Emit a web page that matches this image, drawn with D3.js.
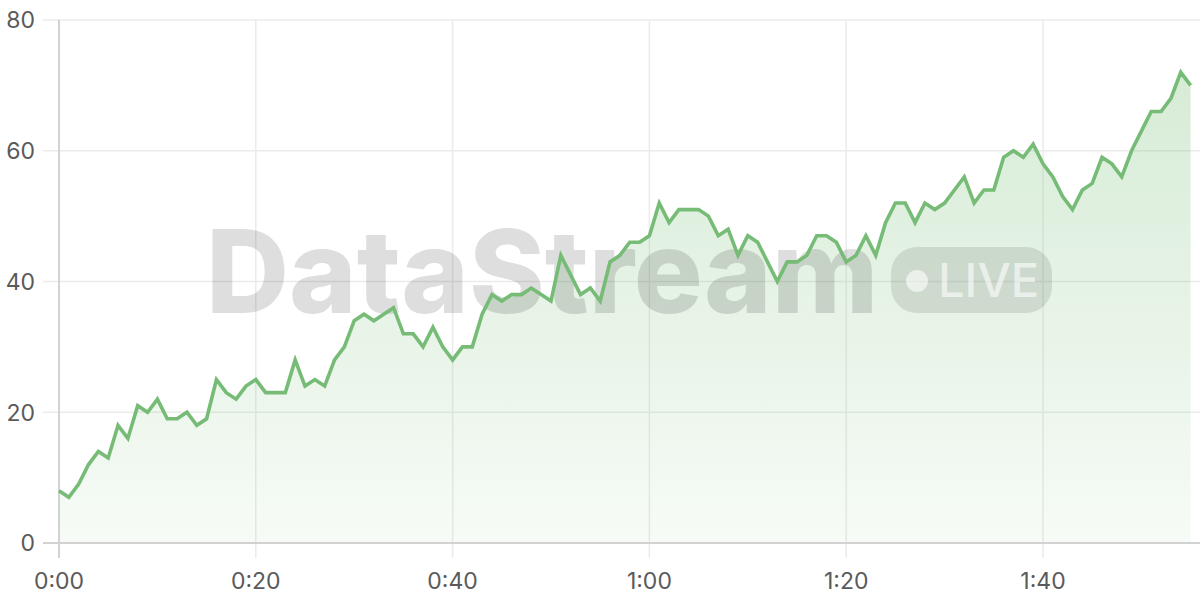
<!DOCTYPE html>
<html>
<head>
<meta charset="utf-8">
<script src="https://cdn.jsdelivr.net/npm/d3@7"></script>
<style>
  html, body { margin: 0; padding: 0; background: #fff; }
  svg { display: block; }
</style>
</head>
<body>
<svg id="chart" width="1200" height="600"></svg>
<script>
// Data: one value per second (0..115)
const values = [
  8, 7, 9, 12, 14, 13, 18, 16, 21, 20,
  22, 19, 19, 20, 18, 19, 25, 23, 22, 24,
  25, 23, 23, 23, 28, 24, 25, 24, 28, 30,
  34, 35, 34, 35, 36, 32, 32, 30, 33, 30,
  28, 30, 30, 35, 38, 37, 38, 38, 39, 38,
  37, 44, 41, 38, 39, 37, 43, 44, 46, 46,
  47, 52, 49, 51, 51, 51, 50, 47, 48, 44,
  47, 46, 43, 40, 43, 43, 44, 47, 47, 46,
  43, 44, 47, 44, 49, 52, 52, 49, 52, 51,
  52, 54, 56, 52, 54, 54, 59, 60, 59, 61,
  58, 56, 53, 51, 54, 55, 59, 58, 56, 60,
  63, 66, 66, 68, 72, 70
];
const seconds = values.map((_, i) => i);
const xTicks = [0, 20, 40, 60, 80, 100];
const yTicks = [0, 20, 40, 60, 80];
const watermarkText = "DataStream";
const badgeText = "LIVE";

(function () {
const svg = d3.select("#chart");
const mLeft = 59, mRight = 1190.6, mTop = 20, mBottom = 543;

const x = d3.scaleLinear().domain([0, 115]).range([mLeft, mRight]);
const y = d3.scaleLinear().domain([0, 80]).range([mBottom, mTop]);
const fmt = s => Math.floor(s / 60) + ":" + String(s % 60).padStart(2, "0");

// gradient
const defs = svg.append("defs");
const grad = defs.append("linearGradient").attr("id", "areaGrad")
  .attr("gradientUnits", "userSpaceOnUse")
  .attr("x1", 0).attr("y1", mTop).attr("x2", 0).attr("y2", mBottom);
grad.append("stop").attr("offset", "0%").attr("stop-color", "#74bd74").attr("stop-opacity", 0.32);
grad.append("stop").attr("offset", "100%").attr("stop-color", "#74bd74").attr("stop-opacity", 0.06);

// horizontal grid
svg.append("g").selectAll("line").data(yTicks.filter(d => d !== 0)).join("line")
  .attr("x1", 43).attr("x2", 1200)
  .attr("y1", d => y(d)).attr("y2", d => y(d))
  .attr("stroke", "#ebebeb").attr("stroke-width", 1.5);

// vertical grid
svg.append("g").selectAll("line").data(xTicks.filter(d => d !== 0)).join("line")
  .attr("x1", d => x(d)).attr("x2", d => x(d))
  .attr("y1", mTop).attr("y2", 558)
  .attr("stroke", "#ebebeb").attr("stroke-width", 1.5);

// area
const area = d3.area().x((d, i) => x(seconds[i])).y0(mBottom).y1(d => y(d));
svg.append("path").datum(values).attr("d", area).attr("fill", "url(#areaGrad)");

// watermark
const wm = svg.append("g").attr("pointer-events", "none");
wm.append("text").text(watermarkText)
  .attr("x", 206).attr("y", 313)
  .attr("font-family", "Inter, 'Liberation Sans', sans-serif")
  .attr("font-weight", 800).attr("font-size", 115)
  .attr("letter-spacing", 0)
  .attr("fill", "#000").attr("fill-opacity", 0.13);
wm.append("rect").attr("x", 891).attr("y", 247).attr("width", 161).attr("height", 66)
  .attr("rx", 26).attr("fill", "#000").attr("fill-opacity", 0.1);
wm.append("circle").attr("cx", 917).attr("cy", 281).attr("r", 11)
  .attr("fill", "#fff").attr("fill-opacity", 0.6);
wm.append("text").text(badgeText)
  .attr("x", 938).attr("y", 297)
  .attr("font-family", "Inter, 'Liberation Sans', sans-serif")
  .attr("font-weight", 500).attr("font-size", 47)
  .attr("fill", "#fff").attr("fill-opacity", 0.6);

// axis lines
svg.append("line").attr("x1", mLeft).attr("x2", mLeft).attr("y1", mTop).attr("y2", 558)
  .attr("stroke", "#d2d2d2").attr("stroke-width", 2);
svg.append("line").attr("x1", 43).attr("x2", 1200).attr("y1", mBottom).attr("y2", mBottom)
  .attr("stroke", "#d2d2d2").attr("stroke-width", 2);

// line
const line = d3.line().x((d, i) => x(seconds[i])).y(d => y(d));
svg.append("path").datum(values).attr("d", line)
  .attr("fill", "none").attr("stroke", "#76bb76").attr("stroke-width", 3.6)
  .attr("stroke-linejoin", "miter");

// y labels
svg.append("g").selectAll("text").data(yTicks).join("text")
  .attr("x", 35).attr("y", d => y(d) + 8.3)
  .attr("text-anchor", "end")
  .attr("font-family", "Inter, sans-serif").attr("font-size", 23)
  .attr("fill", "#5a5a5a").text(d => d);

// x labels
svg.append("g").selectAll("text").data(xTicks).join("text")
  .attr("x", d => x(d)).attr("y", 588.5)
  .attr("text-anchor", "middle")
  .attr("font-family", "Inter, sans-serif").attr("font-size", 23)
  .attr("fill", "#5a5a5a").text(d => fmt(d));
})();
</script>
</body>
</html>
